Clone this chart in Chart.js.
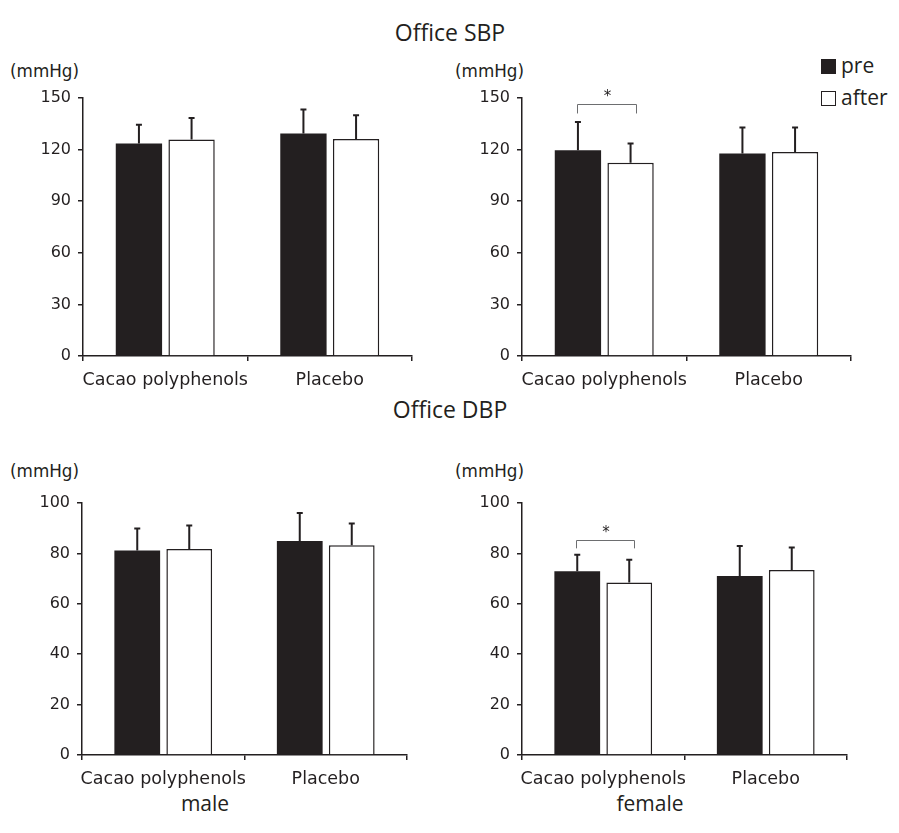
<!DOCTYPE html>
<html>
<head>
<meta charset="utf-8">
<script src="https://cdn.jsdelivr.net/npm/chart.js@4.4.1/dist/chart.umd.min.js"></script>
<style>
  body { margin: 0; background: #fff; }
  #page { position: relative; width: 899px; height: 833px; overflow: hidden; color: #231f20; }
  .txt { position: absolute; white-space: nowrap; line-height: 1; }
  .title { font-family: "Open Sans", sans-serif; font-size: 23px; transform: translateX(-50%); }
  .unit { font-family: "DejaVu Sans", sans-serif; font-size: 16.8px; }
  .sex { font-family: "Open Sans", sans-serif; font-size: 21px; transform: translateX(-50%); }
  .leg { font-family: "Open Sans", sans-serif; font-size: 21px; }
  .sw { position: absolute; width: 15px; height: 15px; box-sizing: border-box; }
  canvas { position: absolute; }
</style>
</head>
<body>
<div id="page">
  <div class="txt title" style="left:450px; top:21px;">Office SBP</div>
  <div class="txt title" style="left:450px; top:398px;">Office DBP</div>

  <div class="txt unit" style="left:10px; top:63px;">(mmHg)</div>
  <div class="txt unit" style="left:455px; top:63px;">(mmHg)</div>
  <div class="txt unit" style="left:10px; top:463px;">(mmHg)</div>
  <div class="txt unit" style="left:455px; top:463px;">(mmHg)</div>

  <div class="txt sex" style="left:205px; top:793px;">male</div>
  <div class="txt sex" style="left:650px; top:793px;">female</div>

  <div class="sw" style="left:821px; top:59px; background:#231f20;"></div>
  <div class="txt leg" style="left:841px; top:55px;">pre</div>
  <div class="sw" style="left:821px; top:91px; border:1.5px solid #231f20; background:#fff;"></div>
  <div class="txt leg" style="left:841px; top:87px;">after</div>

  <canvas id="sbpMale"></canvas>
  <canvas id="sbpFemale"></canvas>
  <canvas id="dbpMale"></canvas>
  <canvas id="dbpFemale"></canvas>
</div>

<script>
// categories and groups
var groups = ['Cacao polyphenols', 'Placebo'];
var seriesNames = ['pre', 'after'];

// Office SBP (mmHg), mean and SD
var sbpMalePre = [123.5, 129.3];
var sbpMalePreSd = [11.0, 14.0];
var sbpMaleAfter = [125.8, 126.2];
var sbpMaleAfterSd = [12.6, 13.7];

var sbpFemalePre = [119.6, 117.8];
var sbpFemalePreSd = [16.5, 15.0];
var sbpFemaleAfter = [112.4, 118.6];
var sbpFemaleAfterSd = [11.2, 14.3];

// Office DBP (mmHg), mean and SD
var dbpMalePre = [81.2, 84.9];
var dbpMalePreSd = [8.7, 11.1];
var dbpMaleAfter = [81.7, 83.2];
var dbpMaleAfterSd = [9.4, 8.7];

var dbpFemalePre = [72.9, 71.0];
var dbpFemalePreSd = [6.6, 11.9];
var dbpFemaleAfter = [68.5, 73.4];
var dbpFemaleAfterSd = [9.0, 8.9];

// y axis ticks
var sbpTicks = [0, 30, 60, 90, 120, 150];
var dbpTicks = [0, 20, 40, 60, 80, 100];

// significance brackets: [top value, leg end value], category 0 only
var sbpFemaleSig = [146.5, 141.0];
var dbpFemaleSig = [85.2, 82.0];

var ink = '#231f20';
var YW = 80, PADT = 10, PADR = 10, XH = 42;

var errorBars = {
    id: 'errorBars',
    afterDatasetsDraw(chart) {
        let ctx = chart.ctx;
        let y = chart.scales.y;
        ctx.save();
        ctx.strokeStyle = ink;
        ctx.lineWidth = 2;
        chart.data.datasets.forEach((ds, i) => {
            chart.getDatasetMeta(i).data.forEach((bar, j) => {
                let top = y.getPixelForValue(ds.data[j] + ds.sd[j]);
                ctx.beginPath();
                ctx.moveTo(bar.x, bar.y);
                ctx.lineTo(bar.x, top);
                ctx.moveTo(bar.x - 3, top);
                ctx.lineTo(bar.x + 3, top);
                ctx.stroke();
            });
        });
        ctx.restore();
    }
};

var sigBracket = {
    id: 'sigBracket',
    afterDatasetsDraw(chart, args, opts) {
        if (!opts.values) return;
        let ctx = chart.ctx;
        let y = chart.scales.y;
        let x1 = Math.round(chart.getDatasetMeta(0).data[0].x - 1);
        let x2 = Math.round(chart.getDatasetMeta(1).data[0].x + 5);
        let yt = Math.round(y.getPixelForValue(opts.values[0]));
        let yb = y.getPixelForValue(opts.values[1]);
        ctx.save();
        ctx.strokeStyle = '#6d6e70';
        ctx.lineWidth = 1;
        ctx.beginPath();
        ctx.moveTo(x1 + 0.5, yb);
        ctx.lineTo(x1 + 0.5, yt + 0.5);
        ctx.lineTo(x2 + 0.5, yt + 0.5);
        ctx.lineTo(x2 + 0.5, yb);
        ctx.stroke();
        ctx.fillStyle = ink;
        ctx.font = '15px "DejaVu Sans"';
        ctx.textAlign = 'center';
        ctx.textBaseline = 'alphabetic';
        ctx.fillText('*', (x1 + x2) / 2 + 1, yt - 3);
        ctx.restore();
    }
};

function makePanel(id, box, pre, preSd, after, afterSd, ticks, sig) {
    let cv = document.getElementById(id);
    let w = box.right - box.left + YW + PADR;
    let h = box.bottom - box.top + PADT + XH;
    cv.style.left = (box.left - YW) + 'px';
    cv.style.top = (box.top - PADT) + 'px';
    cv.width = w;
    cv.height = h;
    cv.style.width = w + 'px';
    cv.style.height = h + 'px';

    return new Chart(cv, {
        type: 'bar',
        data: {
            labels: groups,
            datasets: [{
                label: seriesNames[0],
                data: pre,
                sd: preSd,
                backgroundColor: ink,
                borderWidth: 0,
                categoryPercentage: 0.64,
                barPercentage: 0.88
            }, {
                label: seriesNames[1],
                data: after,
                sd: afterSd,
                backgroundColor: '#ffffff',
                borderColor: ink,
                borderWidth: { top: 1.5, left: 1.5, right: 1.5, bottom: 0 },
                categoryPercentage: 0.64,
                barPercentage: 0.88
            }]
        },
        options: {
            responsive: false,
            animation: false,
            layout: { padding: { top: PADT, right: PADR, left: 0, bottom: 0 } },
            plugins: {
                legend: { display: false },
                tooltip: { enabled: false },
                sigBracket: { values: sig }
            },
            scales: {
                x: {
                    offset: true,
                    grid: { offset: true, drawOnChartArea: false, drawTicks: true, tickLength: 5, color: ink, lineWidth: 1.5 },
                    border: { display: true, color: ink, width: 1.5 },
                    ticks: { color: ink, padding: 9, maxRotation: 0, minRotation: 0, autoSkip: false, font: { family: 'DejaVu Sans', size: 17.5 } },
                    afterFit(s) { s.height = XH; s.paddingLeft = 0; s.paddingRight = 0; }
                },
                y: {
                    min: ticks[0],
                    max: ticks[ticks.length - 1],
                    afterBuildTicks(s) { s.ticks = ticks.map(v => ({ value: v })); },
                    grid: { drawOnChartArea: false, drawTicks: true, tickLength: 5, color: ink, lineWidth: 1.5 },
                    border: { display: true, color: ink, width: 1.5 },
                    ticks: { color: ink, padding: 7, font: { family: 'DejaVu Sans', size: 16 } },
                    afterFit(s) { s.width = YW; s.paddingTop = 0; s.paddingBottom = 0; }
                }
            }
        },
        plugins: [errorBars, sigBracket]
    });
}

makePanel('sbpMale', { left: 83, right: 412, top: 98, bottom: 356 },
    sbpMalePre, sbpMalePreSd, sbpMaleAfter, sbpMaleAfterSd, sbpTicks, null);
makePanel('sbpFemale', { left: 522, right: 851, top: 98, bottom: 356 },
    sbpFemalePre, sbpFemalePreSd, sbpFemaleAfter, sbpFemaleAfterSd, sbpTicks, sbpFemaleSig);
makePanel('dbpMale', { left: 82, right: 407, top: 503, bottom: 755 },
    dbpMalePre, dbpMalePreSd, dbpMaleAfter, dbpMaleAfterSd, dbpTicks, null);
makePanel('dbpFemale', { left: 522, right: 847, top: 503, bottom: 755 },
    dbpFemalePre, dbpFemalePreSd, dbpFemaleAfter, dbpFemaleAfterSd, dbpTicks, dbpFemaleSig);
</script>
</body>
</html>
